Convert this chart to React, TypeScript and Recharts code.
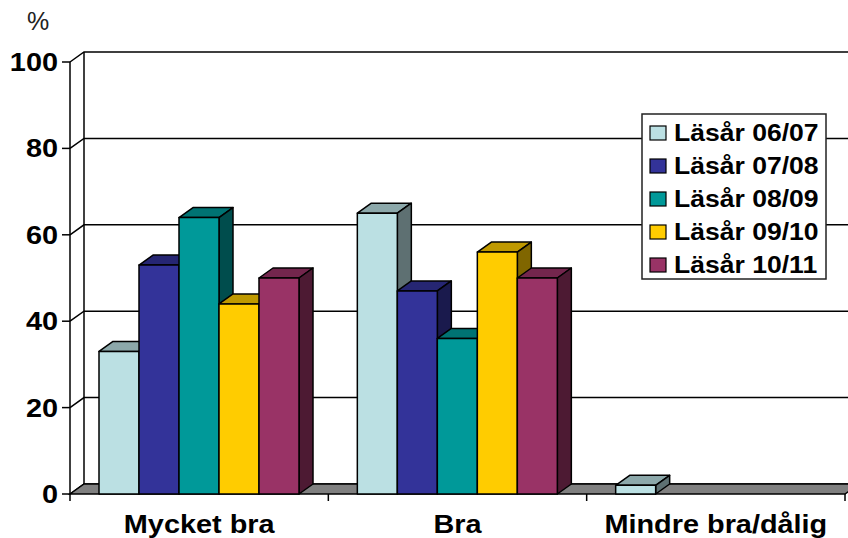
import { BarChart, Bar, XAxis, YAxis, CartesianGrid, Legend, ReferenceArea } from "recharts";

const categories = ["Mycket bra", "Bra", "Mindre bra/dålig"];
const yTicks = [0, 20, 40, 60, 80, 100];

const seriesNames = ["Läsår 06/07", "Läsår 07/08", "Läsår 08/09", "Läsår 09/10", "Läsår 10/11"];
const seriesColors = ["#BBE0E3", "#333399", "#009999", "#FFCC00", "#993366"];
const topColors = ["#8CA8AA", "#262673", "#007373", "#BF9900", "#73264D"];
const sideColors = ["#5E7072", "#1A1A4D", "#004D4D", "#806600", "#4D1A33"];

const las0607 = [33, 65, 2];
const las0708 = [53, 47, 0];
const las0809 = [64, 36, 0];
const las0910 = [44, 56, 0];
const las1011 = [50, 50, 0];
const seriesValues = [las0607, las0708, las0809, las0910, las1011];

const chartData = categories.map((name, i) => {
  const row: Record<string, string | number> = { name };
  seriesNames.forEach((s, j) => {
    row[s] = seriesValues[j][i];
  });
  return row;
});

const FONT = "Liberation Sans, Arial, sans-serif";
const DX = 14;
const DY = 10;
const STRETCH = 1.11;

function Bar3D(props: any) {
  const { x, y, width, height, index } = props;
  const i = props.seriesIndex as number;
  if (!height || height <= 0 || index === undefined) return null;
  const top = `${x},${y} ${x + DX},${y - DY} ${x + width + DX},${y - DY} ${x + width},${y}`;
  const side = `${x + width},${y} ${x + width + DX},${y - DY} ${x + width + DX},${y + height - DY} ${x + width},${y + height}`;
  return (
    <g stroke="#000" strokeWidth={1.5} strokeLinejoin="round">
      <polygon points={top} fill={topColors[i]} />
      <polygon points={side} fill={sideColors[i]} />
      <rect x={x} y={y} width={width} height={height} fill={seriesColors[i]} />
    </g>
  );
}

// gridline on the back wall plus the diagonal running across the left side wall
function GridLine(props: any) {
  const { x1, y1, x2 } = props;
  return (
    <polyline
      points={`${x1},${y1} ${x1 + DX},${y1 - DY} ${x2 + DX},${y1 - DY}`}
      fill="none"
      stroke="#000"
      strokeWidth={1.5}
    />
  );
}

function Floor(props: any) {
  const { x, y, width, height } = props;
  const b = y + height;
  return (
    <g stroke="#000" strokeWidth={1.5}>
      <line x1={x + DX} y1={y - DY} x2={x + DX} y2={b - DY} />
      <polygon
        points={`${x},${b} ${x + DX},${b - DY} ${x + width + DX},${b - DY} ${x + width},${b}`}
        fill="#808080"
      />
    </g>
  );
}

function YTick(props: any) {
  const { x, y, payload } = props;
  return (
    <text
      transform={`translate(${x},${y + 9}) scale(${STRETCH},1)`}
      textAnchor="end"
      fontFamily={FONT}
      fontWeight="bold"
      fontSize={26}
      fill="#000"
    >
      {payload.value}
    </text>
  );
}

function XTick(props: any) {
  const { x, y, payload, width } = props;
  const band = width / categories.length;
  const left = x - band / 2;
  const right = x + band / 2;
  const base = y - 8;
  return (
    <g>
      <line x1={left} y1={base} x2={left} y2={base + 7} stroke="#000" strokeWidth={1.5} />
      {payload.index === categories.length - 1 && (
        <line x1={right} y1={base} x2={right} y2={base + 7} stroke="#000" strokeWidth={1.5} />
      )}
      <text
        transform={`translate(${x},${base + 39}) scale(${STRETCH},1)`}
        textAnchor="middle"
        fontFamily={FONT}
        fontWeight="bold"
        fontSize={26}
        fill="#000"
      >
        {payload.value}
      </text>
    </g>
  );
}

function LegendBox() {
  return (
    <svg width={186} height={167} style={{ display: "block" }}>
      <rect x={1} y={1} width={184} height={165} fill="#fff" stroke="#222" strokeWidth={1.5} />
      {seriesNames.map((name, i) => (
        <g key={name}>
          <rect x={9} y={13 + i * 33} width={16} height={14} fill={seriesColors[i]} stroke="#000" strokeWidth={1.2} />
          <text
            transform={`translate(33,${28 + i * 33}) scale(1.13,1)`}
            fontFamily={FONT}
            fontWeight="bold"
            fontSize={23.5}
            fill="#000"
          >
            {name}
          </text>
        </g>
      ))}
    </svg>
  );
}

export default function App() {
  return (
    <div style={{ position: "absolute", left: 0, top: 0, width: 848, height: 538, background: "#fff", overflow: "hidden" }}>
      <BarChart
        width={848}
        height={538}
        data={chartData}
        barSize={40}
        barGap={0}
        margin={{ top: 62, right: 3, bottom: 0, left: 0 }}
      >
        <CartesianGrid vertical={false} horizontal={GridLine} stroke="#000" />
        <ReferenceArea y1={0} y2={100} shape={Floor} ifOverflow="visible" />
        <XAxis dataKey="name" height={44} axisLine={false} tickLine={false} tick={XTick} interval={0} />
        <YAxis
          width={70}
          domain={[0, 100]}
          ticks={yTicks}
          interval={0}
          axisLine={{ stroke: "#000", strokeWidth: 1.5 }}
          tickLine={{ stroke: "#000", strokeWidth: 1.5 }}
          tickSize={8}
          tickMargin={4}
          tick={YTick}
        />
        <Legend
          layout="vertical"
          verticalAlign="middle"
          align="center"
          content={<LegendBox />}
          wrapperStyle={{ left: 641, top: 113, width: 186, height: 167, margin: 0 }}
        />
        {seriesNames.map((name, i) => (
          <Bar
            key={name}
            dataKey={name}
            fill={seriesColors[i]}
            isAnimationActive={false}
            shape={(p: any) => <Bar3D {...p} seriesIndex={i} />}
          />
        ))}
        <text x={27} y={30} fontFamily={FONT} fontSize={25} fill="#222">
          %
        </text>
      </BarChart>
    </div>
  );
}
